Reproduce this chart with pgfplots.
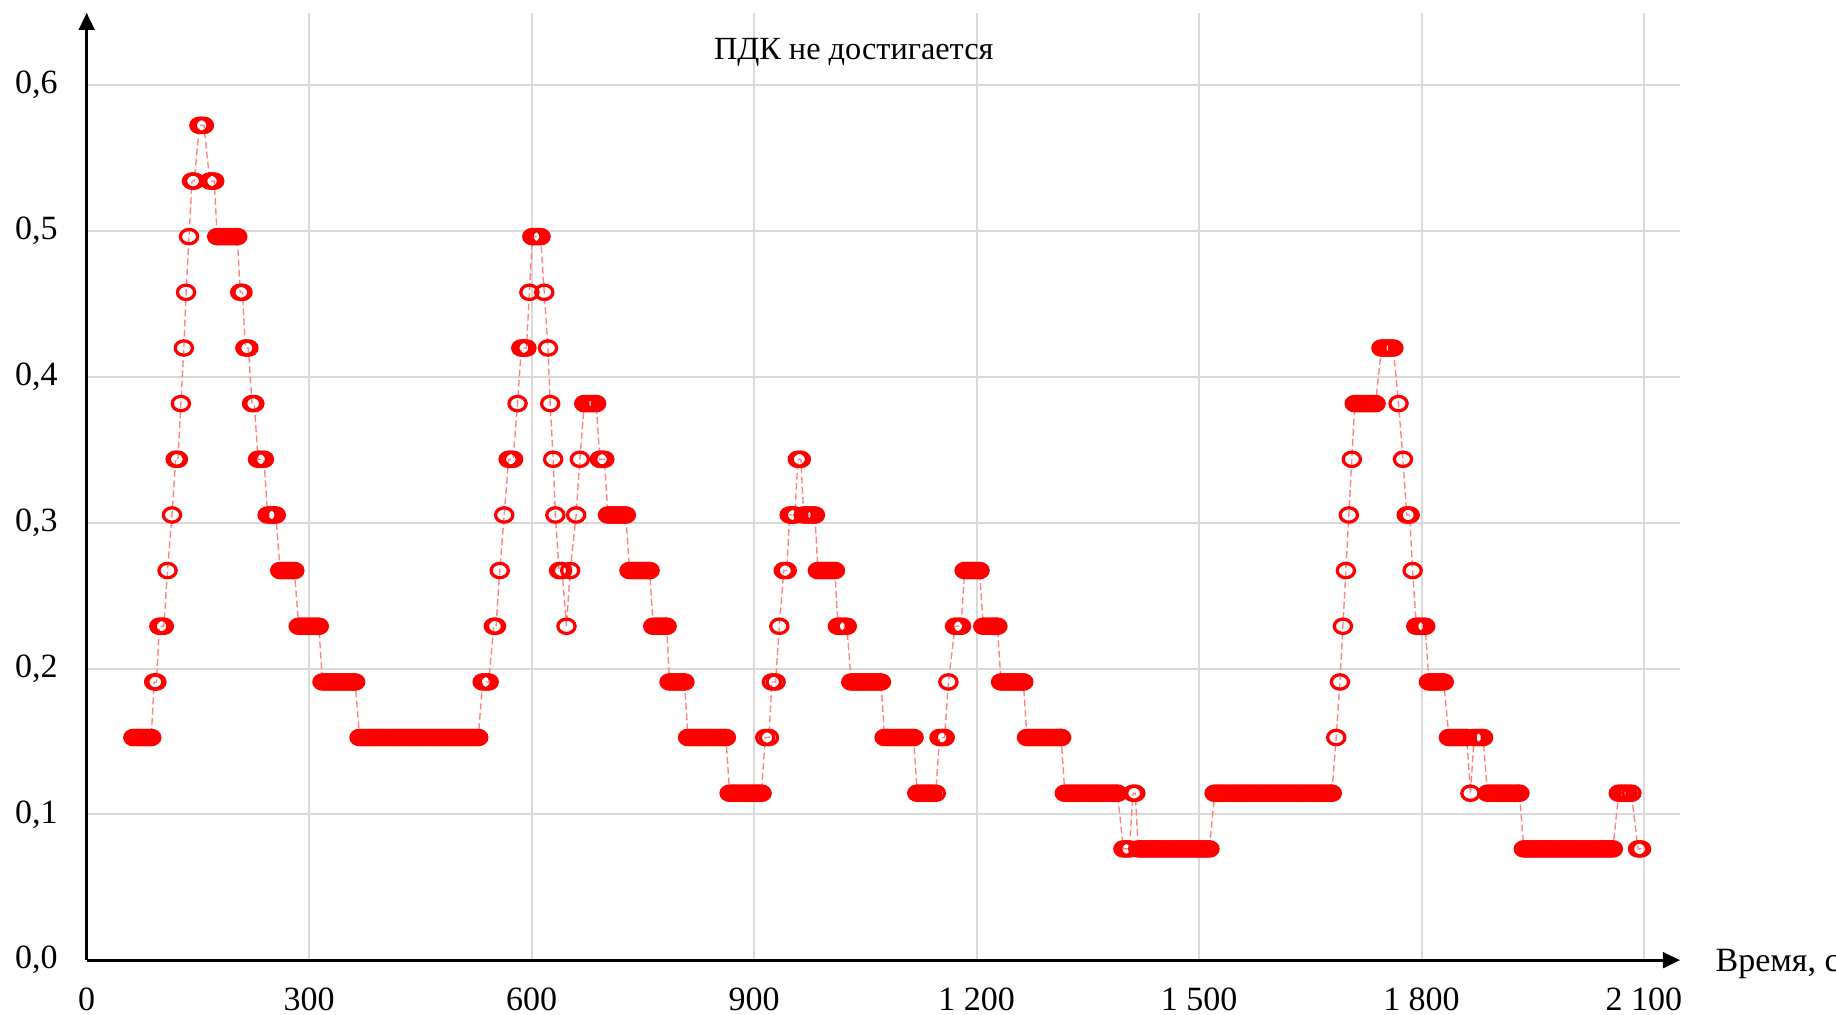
\documentclass[border=0pt]{standalone}
\usepackage{fontspec}
\setmainfont{Liberation Serif}
\usepackage{pgfplots}
\pgfplotsset{compat=1.18}
\usetikzlibrary{arrows.meta}
\definecolor{gridgray}{RGB}{217,217,217}
\definecolor{dashred}{RGB}{255,130,130}
\begin{document}
\begin{tikzpicture}
\begin{axis}[
  at={(0pt,0pt)}, anchor=origin,
  scale only axis,
  width=468.6pt, height=278.6pt,
  xmin=0, xmax=2148.5, ymin=0, ymax=0.6496,
  axis lines=left,
  axis line style={black, line width=0.8pt, -{Triangle[length=5pt,width=4.6pt]}},
  xtick={0,300,...,2100},
  ytick={0,0.1,...,0.6},
  major tick length=0pt,
  grid=major,
  major grid style={draw=gridgray, line width=0.6pt},
  /pgf/number format/assume math mode=true,
  xticklabel style={yshift=-4.6pt, /pgf/number format/1000 sep={\ }},
  yticklabel style={xshift=-5pt, /pgf/number format/.cd, fixed, fixed zerofill, precision=1, use comma},
  tick label style={font=\fontsize{10}{12}\selectfont},
  clip=false,
]
\addplot[dashred, line width=0.4pt, dash pattern=on 2pt off 1pt,
  mark=o, mark size=2.35pt,
  mark options={solid, draw=red, line width=0.95pt, xscale=1.08, yscale=0.9}]
coordinates {
(63,0.1527)(67,0.1527)(71,0.1527)(75,0.1527)(79,0.1527)(83,0.1527)(87,0.1527)
(91,0.1908)(94,0.1908)
(98,0.2290)(101,0.2290)(104,0.2290)
(109,0.2672)
(115,0.3053)
(120,0.3435)(123,0.3435)
(127,0.3817)
(131,0.4198)
(134,0.4580)
(138,0.4962)
(142,0.5343)(145,0.5343)
(152,0.5725)(155,0.5725)(158,0.5725)
(166,0.5343)(169,0.5343)(172,0.5343)
(176,0.4962)(180,0.4962)(184,0.4962)(188,0.4962)(192,0.4962)(196,0.4962)(200,0.4962)(203,0.4962)
(207,0.4580)(210,0.4580)
(214,0.4198)(218,0.4198)
(223,0.3817)(226,0.3817)
(231,0.3435)(235,0.3435)(239,0.3435)
(244,0.3053)(248,0.3053)(252,0.3053)(255,0.3053)
(261,0.2672)(265,0.2672)(269,0.2672)(273,0.2672)(277,0.2672)(280,0.2672)
(286,0.2290)(290,0.2290)(294,0.2290)(298,0.2290)(302,0.2290)(306,0.2290)(310,0.2290)(313,0.2290)
(318,0.1908)(322,0.1908)(326,0.1908)(330,0.1908)(334,0.1908)(338,0.1908)(342,0.1908)(346,0.1908)(350,0.1908)(354,0.1908)(358,0.1908)(362,0.1908)
(368,0.1527)(372,0.1527)(376,0.1527)(380,0.1527)(384,0.1527)(388,0.1527)(392,0.1527)(396,0.1527)(400,0.1527)(404,0.1527)
(408,0.1527)(412,0.1527)(416,0.1527)(420,0.1527)(424,0.1527)(428,0.1527)(432,0.1527)(436,0.1527)(440,0.1527)(444,0.1527)
(448,0.1527)(452,0.1527)(456,0.1527)(460,0.1527)(464,0.1527)(468,0.1527)(472,0.1527)(476,0.1527)(480,0.1527)(484,0.1527)
(488,0.1527)(492,0.1527)(496,0.1527)(500,0.1527)(504,0.1527)(508,0.1527)(512,0.1527)(516,0.1527)(520,0.1527)(524,0.1527)(528,0.1527)
(534,0.1908)(538,0.1908)(542,0.1908)
(549,0.2290)(552,0.2290)
(557,0.2672)
(563,0.3053)
(569,0.3435)(572,0.3435)(575,0.3435)
(581,0.3817)
(586,0.4198)(589,0.4198)(593,0.4198)
(597,0.4580)
(601,0.4962)(604,0.4962)(608,0.4962)(612,0.4962)
(617,0.4580)
(622,0.4198)
(625,0.3817)
(629,0.3435)
(632,0.3053)
(637,0.2672)(641,0.2672)
(647,0.2290)
(652,0.2672)
(660,0.3053)
(665,0.3435)
(671,0.3817)(675,0.3817)(679,0.3817)(683,0.3817)(687,0.3817)
(692,0.3435)(695,0.3435)(698,0.3435)
(703,0.3053)(707,0.3053)(711,0.3053)(715,0.3053)(719,0.3053)(723,0.3053)(727,0.3053)
(732,0.2672)(736,0.2672)(740,0.2672)(744,0.2672)(748,0.2672)(752,0.2672)(756,0.2672)(759,0.2672)
(764,0.2290)(768,0.2290)(772,0.2290)(776,0.2290)(780,0.2290)(782,0.2290)
(786,0.1908)(790,0.1908)(794,0.1908)(798,0.1908)(802,0.1908)(806,0.1908)
(811,0.1527)(815,0.1527)(819,0.1527)(823,0.1527)(827,0.1527)(831,0.1527)(835,0.1527)(839,0.1527)(843,0.1527)(847,0.1527)(851,0.1527)(855,0.1527)(859,0.1527)(862,0.1527)
(867,0.1145)(871,0.1145)(875,0.1145)(879,0.1145)(883,0.1145)(887,0.1145)(891,0.1145)(895,0.1145)(899,0.1145)(903,0.1145)(907,0.1145)(910,0.1145)
(915,0.1527)(920,0.1527)
(924,0.1908)(929,0.1908)
(934,0.2290)
(940,0.2672)(944,0.2672)
(948,0.3053)(951,0.3053)(955,0.3053)
(959,0.3435)(963,0.3435)
(967,0.3053)(971,0.3053)(975,0.3053)(979,0.3053)(982,0.3053)
(986,0.2672)(990,0.2672)(994,0.2672)(998,0.2672)(1002,0.2672)(1006,0.2672)(1009,0.2672)
(1013,0.2290)(1017,0.2290)(1021,0.2290)(1025,0.2290)
(1031,0.1908)(1035,0.1908)(1039,0.1908)(1043,0.1908)(1047,0.1908)(1051,0.1908)(1055,0.1908)(1059,0.1908)(1063,0.1908)(1067,0.1908)(1071,0.1908)
(1076,0.1527)(1080,0.1527)(1084,0.1527)(1088,0.1527)(1092,0.1527)(1096,0.1527)(1100,0.1527)(1104,0.1527)(1108,0.1527)(1112,0.1527)(1115,0.1527)
(1120,0.1145)(1124,0.1145)(1128,0.1145)(1132,0.1145)(1136,0.1145)(1140,0.1145)(1145,0.1145)
(1150,0.1527)(1154,0.1527)(1157,0.1527)
(1162,0.1908)
(1171,0.2290)(1175,0.2290)(1179,0.2290)
(1184,0.2672)(1188,0.2672)(1192,0.2672)(1196,0.2672)(1200,0.2672)(1204,0.2672)
(1209,0.2290)(1213,0.2290)(1217,0.2290)(1221,0.2290)(1225,0.2290)(1228,0.2290)
(1233,0.1908)(1237,0.1908)(1241,0.1908)(1245,0.1908)(1249,0.1908)(1253,0.1908)(1257,0.1908)(1261,0.1908)(1263,0.1908)
(1268,0.1527)(1272,0.1527)(1276,0.1527)(1280,0.1527)(1284,0.1527)(1288,0.1527)(1292,0.1527)(1296,0.1527)(1300,0.1527)(1304,0.1527)(1308,0.1527)(1312,0.1527)(1314,0.1527)
(1319,0.1145)(1323,0.1145)(1327,0.1145)(1331,0.1145)(1335,0.1145)(1339,0.1145)(1343,0.1145)(1347,0.1145)(1351,0.1145)(1355,0.1145)
(1359,0.1145)(1363,0.1145)(1367,0.1145)(1371,0.1145)(1375,0.1145)(1379,0.1145)(1383,0.1145)(1387,0.1145)(1390,0.1145)
(1398,0.0763)(1402,0.0763)(1406,0.0763)
(1411,0.1145)(1414,0.1145)
(1418,0.0763)(1422,0.0763)(1426,0.0763)(1430,0.0763)(1434,0.0763)(1438,0.0763)(1442,0.0763)(1446,0.0763)(1450,0.0763)(1454,0.0763)
(1458,0.0763)(1462,0.0763)(1466,0.0763)(1470,0.0763)(1474,0.0763)(1478,0.0763)(1482,0.0763)(1486,0.0763)(1490,0.0763)(1494,0.0763)
(1498,0.0763)(1502,0.0763)(1506,0.0763)(1510,0.0763)(1514,0.0763)
(1521,0.1145)(1525,0.1145)(1529,0.1145)(1533,0.1145)(1537,0.1145)(1541,0.1145)(1545,0.1145)(1549,0.1145)(1553,0.1145)(1557,0.1145)
(1561,0.1145)(1565,0.1145)(1569,0.1145)(1573,0.1145)(1577,0.1145)(1581,0.1145)(1585,0.1145)(1589,0.1145)(1593,0.1145)(1597,0.1145)
(1601,0.1145)(1605,0.1145)(1609,0.1145)(1613,0.1145)(1617,0.1145)(1621,0.1145)(1625,0.1145)(1629,0.1145)(1633,0.1145)(1637,0.1145)
(1641,0.1145)(1645,0.1145)(1649,0.1145)(1653,0.1145)(1657,0.1145)(1661,0.1145)(1665,0.1145)(1669,0.1145)(1673,0.1145)(1677,0.1145)(1679,0.1145)
(1685,0.1527)
(1690,0.1908)
(1694,0.2290)
(1698,0.2672)
(1702,0.3053)
(1706,0.3435)
(1710,0.3817)(1714,0.3817)(1718,0.3817)(1722,0.3817)(1726,0.3817)(1730,0.3817)(1734,0.3817)(1738,0.3817)
(1746,0.4198)(1750,0.4198)(1754,0.4198)(1758,0.4198)(1762,0.4198)
(1769,0.3817)
(1775,0.3435)
(1780,0.3053)(1784,0.3053)
(1788,0.2672)
(1793,0.2290)(1797,0.2290)(1801,0.2290)(1805,0.2290)
(1810,0.1908)(1814,0.1908)(1818,0.1908)(1822,0.1908)(1826,0.1908)(1830,0.1908)
(1837,0.1527)(1841,0.1527)(1845,0.1527)(1849,0.1527)(1853,0.1527)(1857,0.1527)(1861,0.1527)
(1866,0.1145)
(1871,0.1527)(1875,0.1527)(1879,0.1527)(1883,0.1527)
(1889,0.1145)(1893,0.1145)(1897,0.1145)(1901,0.1145)(1905,0.1145)(1909,0.1145)(1913,0.1145)(1917,0.1145)(1921,0.1145)(1925,0.1145)(1929,0.1145)(1932,0.1145)
(1938,0.0763)(1942,0.0763)(1946,0.0763)(1950,0.0763)(1954,0.0763)(1958,0.0763)(1962,0.0763)(1966,0.0763)(1970,0.0763)(1974,0.0763)
(1978,0.0763)(1982,0.0763)(1986,0.0763)(1990,0.0763)(1994,0.0763)(1998,0.0763)(2002,0.0763)(2006,0.0763)(2010,0.0763)(2014,0.0763)
(2018,0.0763)(2022,0.0763)(2026,0.0763)(2030,0.0763)(2034,0.0763)(2038,0.0763)(2042,0.0763)(2046,0.0763)(2050,0.0763)(2054,0.0763)(2058,0.0763)
(2066,0.1145)(2070,0.1145)(2074,0.1145)(2078,0.1145)(2083,0.1145)
(2092,0.0763)(2096,0.0763)
};
\end{axis}
\node[anchor=base, font=\fontsize{9.5}{11}\selectfont] at (225.6pt,264.8pt) {ПДК не достигается};
\node[anchor=base west, inner sep=0pt, font=\fontsize{10}{12}\selectfont] at (478.9pt,-3.4pt) {Время, с};
\pgfresetboundingbox
\path[use as bounding box] (-25.5pt,-15.9pt) rectangle (514.5pt,282.4pt);
\end{tikzpicture}
\end{document}
